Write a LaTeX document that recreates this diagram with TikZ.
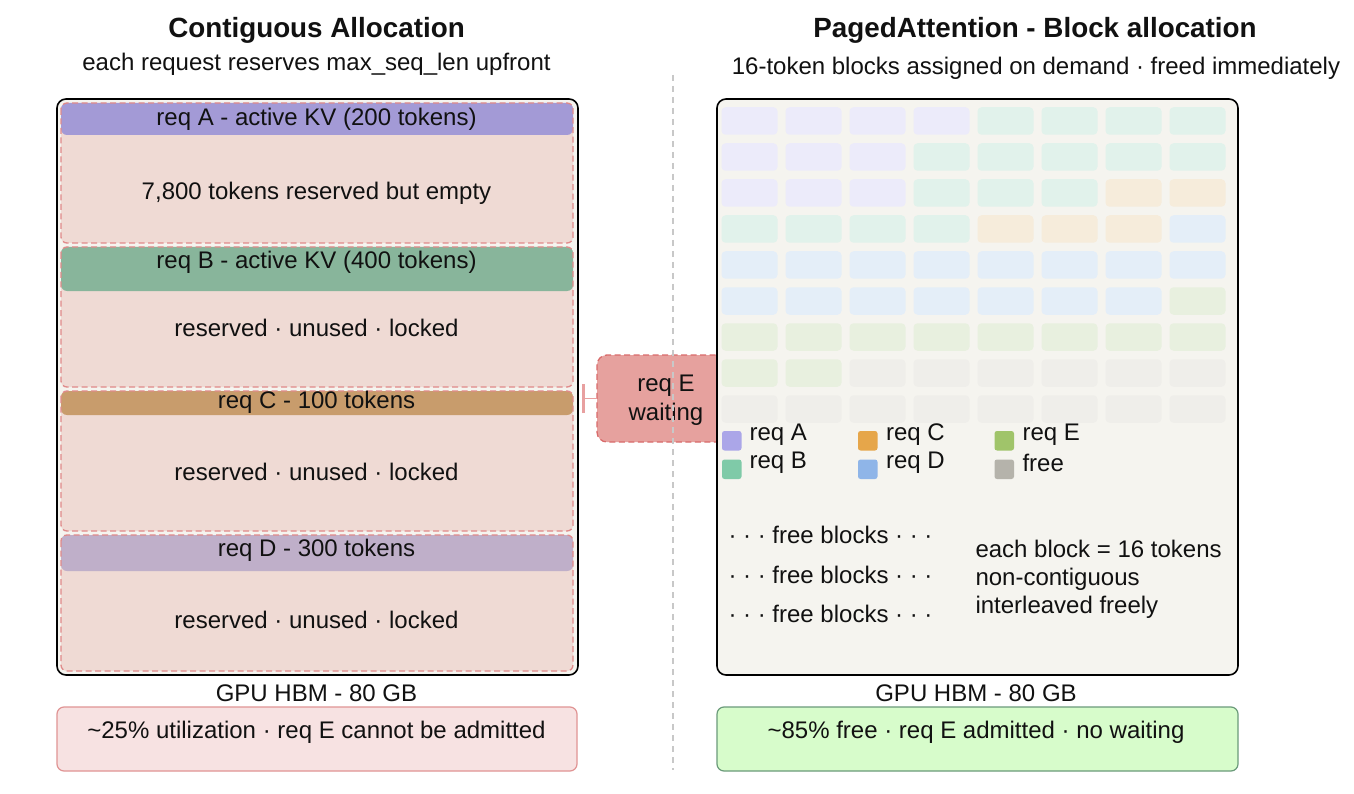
\documentclass[tikz,border=0pt]{standalone}
\usepackage{fontspec}
\setmainfont{Liberation Sans}
\usetikzlibrary{arrows.meta}
\definecolor{txt}{HTML}{111111}
\definecolor{panelbg}{HTML}{F5F4EF}
\definecolor{regfill}{HTML}{EFDAD4}
\definecolor{regborder}{HTML}{E08A8A}
\definecolor{hA}{HTML}{A39AD6}
\definecolor{hB}{HTML}{88B59B}
\definecolor{hC}{HTML}{C89C6C}
\definecolor{hD}{HTML}{BFAFC9}
\definecolor{reqefill}{HTML}{E6A19E}
\definecolor{reqeborder}{HTML}{D96B6B}
\definecolor{connc}{HTML}{E8A0A0}
\definecolor{bA}{HTML}{ECEBFA}
\definecolor{bB}{HTML}{E1F2EB}
\definecolor{bC}{HTML}{F6ECDB}
\definecolor{bD}{HTML}{E4EEF8}
\definecolor{bE}{HTML}{E8F0DF}
\definecolor{bF}{HTML}{EFEEEA}
\definecolor{lA}{HTML}{ABA6E8}
\definecolor{lB}{HTML}{7FCAA8}
\definecolor{lC}{HTML}{E6A64A}
\definecolor{lD}{HTML}{8FB5E8}
\definecolor{lE}{HTML}{A0C46A}
\definecolor{lF}{HTML}{B5B3AB}
\definecolor{badfill}{HTML}{F7E2E2}
\definecolor{badborder}{HTML}{E09494}
\definecolor{goodfill}{HTML}{D7FCCB}
\definecolor{goodborder}{HTML}{6B9B7A}
\definecolor{divc}{HTML}{C8C8C8}
\begin{document}
\begin{tikzpicture}[x=1pt,y=-1pt,
  every node/.style={inner sep=0pt, outer sep=0pt, text=txt},
  txtn/.style={font=\fontsize{24}{29}\selectfont, yshift=-2pt},
  ttl/.style={font=\bfseries\fontsize{27.8}{32}\selectfont, yshift=-1.5pt},
  panel/.style={draw=black, line width=1.6pt, fill=panelbg, rounded corners=9pt, anchor=north west, minimum width=521pt, minimum height=576pt},
  region/.style={fill=regfill, rounded corners=6pt, anchor=north west, minimum width=512pt},
  regline/.style={draw=regborder, dash pattern=on 6pt off 3.5pt, line width=1.3pt, rounded corners=6pt},
  hdr/.style={rounded corners=6pt, anchor=north west, minimum width=512pt},
  blk/.style={rounded corners=4pt, minimum width=56pt, minimum height=27.5pt},
  leg/.style={rounded corners=2.5pt, minimum width=19.5pt, minimum height=19.5pt, anchor=north west},
  reqe/.style={draw=reqeborder, fill=reqefill, dash pattern=on 6pt off 3.5pt, line width=1.3pt, rounded corners=10pt, anchor=north west, minimum width=138pt, minimum height=87pt},
  conn/.style={draw=connc, line width=1.5pt, -{Bar[width=29pt, line width=2.5pt]}},
  sumbox/.style={rounded corners=7pt, line width=1.2pt, anchor=north west, minimum width=520pt, minimum height=64pt},
  divider/.style={draw=divc, line width=1.2pt, dash pattern=on 6pt off 5pt},
]
\useasboundingbox (0,0) rectangle (1354,794);
\fill[white] (0,0) rectangle (1354,794);

% titles
\node[ttl] (t1) at (316.5,29) {Contiguous Allocation};
\node[txtn] (s1) at (316.5,62) {each request reserves max\_seq\_len upfront};
\node[ttl] (t2) at (1035,29) {PagedAttention - Block allocation};
\node[txtn] (s2) at (1036,66) {16-token blocks assigned on demand · freed immediately};

% left panel
\node[panel] (lpanel) at (57,99) {};
\node[region, minimum height=140pt] (ra) at (61,103) {};
\node[hdr, fill=hA, minimum height=32pt] (ha) at (61,103) {};
\draw[regline] (ra.north west) rectangle (ra.south east);
\node[region, minimum height=140pt] (rb) at (61,247) {};
\node[hdr, fill=hB, minimum height=44pt] (hb) at (61,247) {};
\draw[regline] (rb.north west) rectangle (rb.south east);
\node[region, minimum height=140pt] (rc) at (61,391) {};
\node[hdr, fill=hC, minimum height=24pt] (hc) at (61,391) {};
\draw[regline] (rc.north west) rectangle (rc.south east);
\node[region, minimum height=136pt] (rd) at (61,535) {};
\node[hdr, fill=hD, minimum height=36pt] (hd) at (61,535) {};
\draw[regline] (rd.north west) rectangle (rd.south east);

\node[txtn] (la) at (316.5,117) {req A - active KV (200 tokens)};
\node[txtn] (lb) at (316.5,260) {req B - active KV (400 tokens)};
\node[txtn] (lc) at (316.5,400) {req C - 100 tokens};
\node[txtn] (ld) at (316.5,548) {req D - 300 tokens};
\node[txtn] (ta) at (316.5,191) {7,800 tokens reserved but empty};
\node[txtn] (tb) at (316.5,326) {reserved · unused · locked};
\node[txtn] (tc) at (316.5,470) {reserved · unused · locked};
\node[txtn] (td) at (316.5,618) {reserved · unused · locked};

% req E waiting
\node[reqe] (reqE) at (597,355) {};
\node[txtn, align=center] (reqEt) at (reqE.center) {req E\\waiting};
\draw[conn] (reqE.west) -- ([xshift=4pt]reqE.west -| lpanel.east);

% right panel
\node[panel] (rpanel) at (717,99) {};
\foreach \k [count=\c] in {A,A,A,A,B,B,B,B}
  \node[blk, fill=b\k] (b1-\c) at ({749.5+64*(\c-1)},121) {};
\foreach \k [count=\c] in {A,A,A,B,B,B,B,B}
  \node[blk, fill=b\k] (b2-\c) at ({749.5+64*(\c-1)},157) {};
\foreach \k [count=\c] in {A,A,A,B,B,B,C,C}
  \node[blk, fill=b\k] (b3-\c) at ({749.5+64*(\c-1)},193) {};
\foreach \k [count=\c] in {B,B,B,B,C,C,C,D}
  \node[blk, fill=b\k] (b4-\c) at ({749.5+64*(\c-1)},229) {};
\foreach \k [count=\c] in {D,D,D,D,D,D,D,D}
  \node[blk, fill=b\k] (b5-\c) at ({749.5+64*(\c-1)},265) {};
\foreach \k [count=\c] in {D,D,D,D,D,D,D,E}
  \node[blk, fill=b\k] (b6-\c) at ({749.5+64*(\c-1)},301) {};
\foreach \k [count=\c] in {E,E,E,E,E,E,E,E}
  \node[blk, fill=b\k] (b7-\c) at ({749.5+64*(\c-1)},337) {};
\foreach \k [count=\c] in {E,E,F,F,F,F,F,F}
  \node[blk, fill=b\k] (b8-\c) at ({749.5+64*(\c-1)},373) {};
\foreach \k [count=\c] in {F,F,F,F,F,F,F,F}
  \node[blk, fill=b\k] (b9-\c) at ({749.5+64*(\c-1)},409) {};

% legend
\node[leg, fill=lA] (gA) at (722,431) {};
\node[leg, fill=lB] (gB) at (722,459.5) {};
\node[leg, fill=lC] (gC) at (858,431) {};
\node[leg, fill=lD] (gD) at (858,459.5) {};
\node[leg, fill=lE] (gE) at (994.5,431) {};
\node[leg, fill=lF] (gF) at (994.5,459.5) {};
\node[txtn, anchor=west] (xA) at (749.5,433) {req A};
\node[txtn, anchor=west] (xB) at (749.5,461) {req B};
\node[txtn, anchor=west] (xC) at (886,433) {req C};
\node[txtn, anchor=west] (xD) at (886,461) {req D};
\node[txtn, anchor=west] (xE) at (1022.5,433) {req E};
\node[txtn, anchor=west] (xF) at (1022.5,461) {free};

\node[txtn] (f1) at (830.5,533) {· · · free blocks · · ·};
\node[txtn] (f2) at (830.5,573) {· · · free blocks · · ·};
\node[txtn] (f3) at (830.5,612) {· · · free blocks · · ·};
\node[txtn, anchor=west, align=left, font=\fontsize{24}{28}\selectfont] (note) at (975.5,577) {each block = 16 tokens\\non-contiguous\\interleaved freely};

% bottom
\node[txtn] (g1) at (316.5,691) {GPU HBM - 80 GB};
\node[txtn] (g2) at (976,691) {GPU HBM - 80 GB};
\node[sumbox, draw=badborder, fill=badfill] (bad) at (57,707) {};
\node[sumbox, draw=goodborder, fill=goodfill, minimum width=521pt] (good) at (717,707) {};
\node[txtn] (badt) at (316.5,730) {\char"7E 25\% utilization · req E cannot be admitted};
\node[txtn] (goodt) at (976,730) {\char"7E 85\% free · req E admitted · no waiting};

% divider
\coordinate (dtop) at (673,75);
\coordinate (dbot) at (673,770);
\draw[divider] (dtop) -- (dbot);
\end{tikzpicture}
\end{document}
